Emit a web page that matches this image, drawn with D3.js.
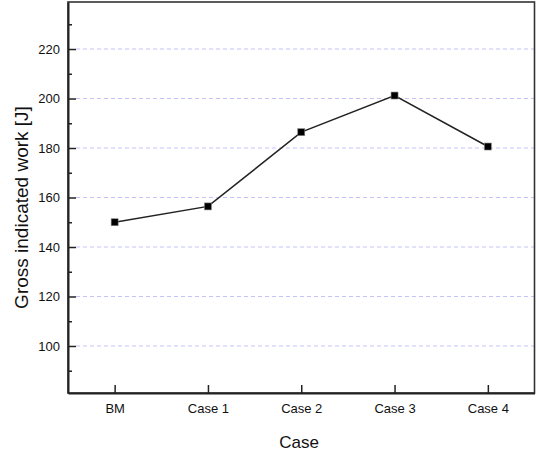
<!DOCTYPE html>
<html>
<head>
<meta charset="utf-8">
<script src="https://cdn.jsdelivr.net/npm/d3@7"></script>
<style>
  html, body { margin: 0; padding: 0; background: #fff; }
  svg { display: block; font-family: "Liberation Sans", Arial, sans-serif; }
</style>
</head>
<body>
<svg id="chart" width="536" height="454"></svg>
<script>
// Gross indicated work per case
const categories = ["BM", "Case 1", "Case 2", "Case 3", "Case 4"];
const workValues = [150.0, 156.4, 186.4, 201.2, 180.6];
const yMajorTicks = [100, 120, 140, 160, 180, 200, 220];
const yMinorTicks = [90, 110, 130, 150, 170, 190, 210, 230];
const xTitle = "Case";
const yTitle = "Gross indicated work [J]";

const svg = d3.select("#chart");
const plotLeft = 68, plotRight = 534.5, plotTop = 2, plotBottom = 393;

const x = d3.scalePoint().domain(categories).range([plotLeft, plotRight]).padding(0.5);
const y = d3.scaleLinear().domain([81, 239]).range([plotBottom, plotTop]);

// dashed horizontal gridlines at major ticks
svg.append("g")
  .selectAll("line")
  .data(yMajorTicks)
  .join("line")
  .attr("x1", plotLeft + 8).attr("x2", plotRight)
  .attr("y1", d => y(d)).attr("y2", d => y(d))
  .attr("stroke", "#c4c4fa")
  .attr("stroke-width", 1)
  .attr("stroke-dasharray", "4,3");

// frame (top and right)
svg.append("rect")
  .attr("x", plotLeft).attr("y", plotTop)
  .attr("width", plotRight - plotLeft).attr("height", plotBottom - plotTop)
  .attr("fill", "none").attr("stroke", "#333").attr("stroke-width", 1.6);

// y axis: inward ticks
const yAxis = d3.axisLeft(y).tickValues(yMajorTicks).tickSizeInner(-8).tickSizeOuter(0).tickPadding(8);
const gy = svg.append("g").attr("transform", `translate(${plotLeft},0)`).call(yAxis);
gy.select(".domain").attr("stroke", "#222").attr("stroke-width", 2);
gy.selectAll(".tick line").attr("stroke", "#222").attr("stroke-width", 1.5);
gy.selectAll(".tick text").attr("font-size", 13).attr("fill", "#111")
  .attr("font-family", "Liberation Sans, Arial, sans-serif");

const yMinorAxis = d3.axisLeft(y).tickValues(yMinorTicks).tickSizeInner(-4).tickSizeOuter(0).tickFormat("");
svg.append("g").attr("transform", `translate(${plotLeft},0)`).call(yMinorAxis)
  .call(g => g.select(".domain").remove())
  .selectAll(".tick line").attr("stroke", "#222").attr("stroke-width", 1.5);

// x axis: inward ticks
const xAxis = d3.axisBottom(x).tickSizeInner(-8).tickSizeOuter(0).tickPadding(11);
const gx = svg.append("g").attr("transform", `translate(0,${plotBottom})`).call(xAxis);
gx.select(".domain").attr("stroke", "#222").attr("stroke-width", 2);
gx.selectAll(".tick line").attr("stroke", "#222").attr("stroke-width", 1.5);
gx.selectAll(".tick text").attr("font-size", 13).attr("fill", "#111")
  .attr("font-family", "Liberation Sans, Arial, sans-serif");

// axis titles
svg.append("text")
  .attr("x", 299).attr("y", 448)
  .attr("text-anchor", "middle")
  .attr("font-size", 17).attr("fill", "#111")
  .text(xTitle);

svg.append("text")
  .attr("transform", "translate(28,207.5) rotate(-90)")
  .attr("text-anchor", "middle")
  .attr("font-size", 19).attr("fill", "#111")
  .text(yTitle);

// data line
const pts = categories.map((c, i) => [x(c), y(workValues[i])]);
svg.append("path")
  .attr("d", d3.line()(pts))
  .attr("fill", "none")
  .attr("stroke", "#222")
  .attr("stroke-width", 1.5);

// square markers
svg.append("g")
  .selectAll("rect")
  .data(categories)
  .join("rect")
  .attr("x", (c) => x(c) - 3.5)
  .attr("y", (c, i) => y(workValues[i]) - 3.5)
  .attr("width", 7).attr("height", 7)
  .attr("fill", "#000")
  .attr("stroke", "#888")
  .attr("stroke-width", 0.6);
</script>
</body>
</html>
